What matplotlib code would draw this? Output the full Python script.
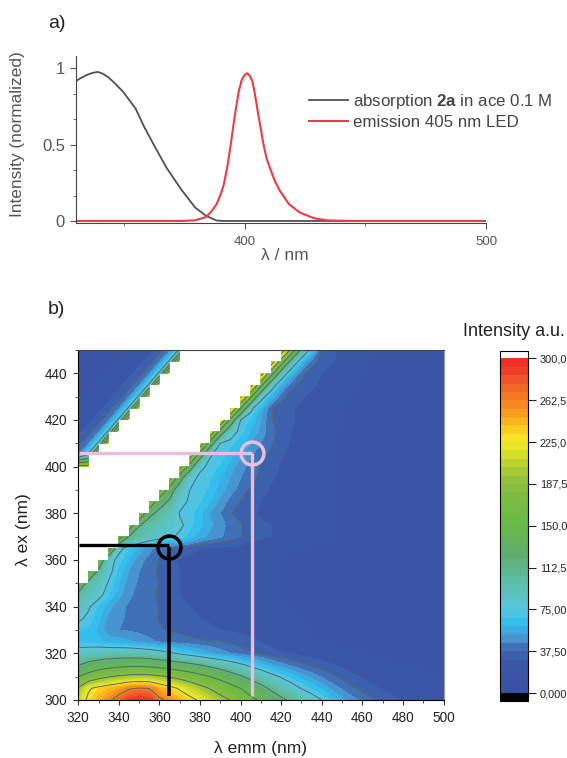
import numpy as np
import matplotlib
matplotlib.use('Agg')
import matplotlib.pyplot as plt
from matplotlib.colors import LinearSegmentedColormap, BoundaryNorm
from matplotlib.ticker import MultipleLocator
from matplotlib.cm import ScalarMappable

plt.rcParams['font.family'] = ['Liberation Sans', 'DejaVu Sans']
plt.rcParams['mathtext.fontset'] = 'custom'
plt.rcParams['mathtext.bf'] = 'Liberation Sans:bold'
plt.rcParams['mathtext.rm'] = 'Liberation Sans'

# panel a) spectra
abs_nm = [330, 332, 334.5, 337, 339, 341, 343.5, 346.5, 349.5, 354.7, 358.3, 362.4, 367.4, 373.5, 379.4, 384, 388.3, 391, 444]
abs_int = [0.916, 0.936, 0.956, 0.97, 0.976, 0.965, 0.94, 0.895, 0.846, 0.736, 0.615, 0.495, 0.352, 0.209, 0.088, 0.033, 0.003, 0, 0]
em_nm = [330, 373.4, 379.4, 383.9, 386, 388.3, 390, 391.3, 392.8, 394.2, 395.3, 396.4, 397.5, 398.7, 399.9, 401, 402.1, 403.2, 404.3,
         405.5, 407.7, 409, 410.8, 412.5, 414.5, 418.3, 422.8, 428.7, 434, 444, 500]
em_int = [0, 0, 0.004, 0.026, 0.06, 0.11, 0.175, 0.24, 0.36, 0.505, 0.63, 0.747, 0.85, 0.923, 0.955, 0.967, 0.95, 0.912, 0.82,
          0.703, 0.505, 0.41, 0.33, 0.26, 0.198, 0.11, 0.055, 0.018, 0.004, 0, 0]

# panel b) excitation-emission map, n = no data (scatter bands)
n = np.nan
lam_em = [320, 325, 330, 335, 340, 345, 350, 355, 360, 365, 370, 375, 380, 385, 390, 395, 400, 405, 410, 415, 420,
          425, 430, 435, 440, 450, 460, 470, 480, 490, 500]
lam_ex = list(range(300, 455, 5))
eem = [
    [210, 230, 245, 258, 275, 290, 298, 292, 268, 255, 242, 232, 222, 210, 198, 187, 172, 158, 145, 130, 118, 108, 95, 85, 75, 55, 42, 35, 29, 27, 25],
    [190, 222, 232, 240, 248, 260, 264, 262, 245, 234, 222, 210, 198, 186, 174, 162, 150, 135, 122, 108, 96, 85, 74, 66, 58, 44, 35, 29, 26, 24, 23],
    [150, 165, 178, 186, 192, 196, 198, 197, 192, 186, 178, 170, 160, 150, 140, 128, 116, 104, 93, 82, 73, 64, 56, 50, 44, 35, 29, 26, 24, 23, 22],
    [112, 122, 130, 136, 140, 143, 143, 141, 137, 132, 126, 120, 113, 105, 97, 88, 79, 70, 62, 54, 48, 43, 39, 36, 33, 28, 25, 23, 22, 22, 21],
    [85, 87, 90, 92, 93, 93, 92, 89, 84, 78, 72, 66, 60, 54, 49, 45, 42, 39, 36, 33, 31, 29, 27, 26, 25, 23, 22, 21, 21, 20, 20],
    [65, 64, 62, 58, 56, 54, 50, 47, 44, 42, 41, 40, 39, 38, 38, 36, 34, 32, 30, 27, 25, 24, 23, 22, 22, 21, 20, 20, 20, 19, 19],
    [68, 65, 58, 47, 45, 44, 43, 41, 38, 37, 36, 34, 32, 31, 30, 29, 28, 27, 26, 25, 24, 23, 23, 22, 22, 21, 20, 20, 20, 19, 19],
    [78, 72, 62, 50, 46, 44, 43, 41, 37, 34, 33, 31, 30, 29, 28, 27, 26, 25, 25, 24, 23, 23, 22, 22, 21, 21, 20, 20, 19, 19, 19],
    [90, 77, 66, 55, 47, 44, 42, 40, 37, 33, 31, 30, 29, 28, 27, 26, 25, 25, 24, 23, 23, 22, 22, 21, 21, 20, 20, 19, 19, 19, 19],
    [105, 90, 80, 68, 55, 46, 43, 40, 36, 32, 30, 29, 28, 27, 26, 25, 25, 24, 23, 23, 22, 22, 21, 21, 21, 20, 20, 19, 19, 19, 19],
    [140, 102, 88, 73, 60, 48, 44, 41, 37, 32, 30, 29, 28, 27, 26, 25, 24, 24, 23, 23, 22, 22, 21, 21, 21, 20, 20, 19, 19, 19, 19],
    [n, 150, 105, 80, 65, 52, 45, 41, 36, 32, 30, 29, 28, 27, 26, 25, 24, 24, 23, 23, 22, 22, 21, 21, 21, 20, 20, 19, 19, 19, 19],
    [n, n, 145, 82, 70, 58, 48, 42, 37, 32, 29, 28, 28, 27, 26, 25, 24, 24, 23, 23, 22, 22, 21, 21, 21, 20, 20, 19, 19, 19, 19],
    [n, n, n, 170, 80, 68, 58, 48, 40, 38, 36, 33, 30, 29, 28, 28, 27, 26, 25, 24, 23, 22, 22, 21, 21, 20, 20, 19, 19, 19, 19],
    [n, n, n, n, 170, 110, 98, 90, 84, 78, 72, 64, 56, 50, 46, 42, 38, 33, 31, 30, 28, 26, 25, 24, 23, 22, 21, 20, 20, 19, 19],
    [n, n, n, n, n, 180, 115, 100, 92, 85, 78, 70, 62, 54, 48, 42, 38, 34, 31, 30, 28, 26, 25, 24, 23, 22, 21, 20, 20, 19, 19],
    [n, n, n, n, n, n, 190, 120, 105, 90, 74, 70, 62, 52, 45, 38, 34, 31, 29, 28, 27, 26, 25, 24, 23, 22, 21, 20, 20, 19, 19],
    [n, n, n, n, n, n, n, 190, 125, 108, 80, 73, 68, 60, 50, 42, 37, 33, 30, 28, 27, 26, 25, 24, 23, 22, 21, 20, 20, 19, 19],
    [n, n, n, n, n, n, n, n, 195, 130, 92, 75, 70, 66, 56, 48, 42, 36, 32, 29, 27, 26, 25, 24, 23, 22, 21, 20, 20, 19, 19],
    [n, n, n, n, n, n, n, n, n, 200, 125, 80, 72, 68, 60, 52, 45, 40, 35, 31, 28, 26, 25, 24, 23, 22, 21, 20, 20, 19, 19],
    [200, 200, n, n, n, n, n, n, n, n, 205, 130, 78, 72, 66, 56, 48, 42, 37, 33, 29, 27, 25, 24, 23, 22, 21, 20, 20, 19, 19],
    [45, 80, 220, n, n, n, n, n, n, n, n, 210, 130, 76, 71, 63, 54, 46, 40, 35, 31, 28, 26, 24, 23, 22, 21, 20, 20, 19, 19],
    [35, 45, 80, 220, n, n, n, n, n, n, n, n, 215, 130, 75, 70, 62, 52, 45, 39, 33, 29, 26, 25, 23, 22, 21, 20, 20, 19, 19],
    [28, 33, 45, 80, 220, n, n, n, n, n, n, n, n, 220, 135, 85, 70, 60, 50, 40, 35, 30, 27, 25, 24, 22, 21, 20, 20, 19, 19],
    [25, 28, 33, 45, 80, 220, n, n, n, n, n, n, n, n, 225, 140, 75, 66, 52, 38, 35, 31, 28, 26, 24, 22, 21, 20, 20, 19, 19],
    [22, 25, 28, 33, 45, 80, 220, n, n, n, n, n, n, n, n, 230, 150, 80, 58, 38, 34, 31, 28, 26, 24, 22, 21, 20, 20, 19, 19],
    [22, 22, 25, 28, 33, 45, 80, 220, n, n, n, n, n, n, n, n, 235, 155, 85, 60, 40, 34, 31, 28, 26, 23, 21, 20, 20, 19, 19],
    [22, 22, 22, 25, 28, 33, 45, 80, 220, n, n, n, n, n, n, n, n, 240, 160, 90, 58, 40, 35, 32, 28, 24, 22, 20, 20, 19, 19],
    [22, 22, 22, 22, 25, 28, 33, 45, 80, 220, n, n, n, n, n, n, n, n, 245, 165, 95, 60, 40, 33, 30, 25, 22, 21, 20, 19, 19],
    [22, 22, 22, 22, 22, 25, 28, 33, 45, 80, 220, n, n, n, n, n, n, n, n, 250, 170, 100, 62, 42, 33, 28, 23, 21, 20, 19, 19],
    [22, 22, 22, 22, 22, 22, 25, 28, 33, 45, 80, 220, n, n, n, n, n, n, n, n, 255, 175, 105, 65, 36, 28, 24, 21, 20, 19, 19],
]

# colour scale
cbar_stops = [0, 25, 37.5, 47.7, 59.6, 73, 98, 122, 149, 176, 194, 214, 228, 241, 253, 268, 283, 295, 300]
cbar_cols = ['#3953a4', '#3a56a6', '#3f6cb2', '#4a9bd5', '#2dbdee', '#5bc5e0', '#5ebfa8', '#5fae6e', '#66b94a',
             '#7cbc42', '#95c13d', '#cfdb2a', '#f8ec25', '#fdc41f', '#f99d1f', '#f47b23', '#f1572a', '#ef3829', '#ee3124']
cbar_ticks = [0, 37.5, 75, 112.5, 150, 187.5, 225, 262.5, 300]
cbar_labels = ['0,000', '37,50', '75,00', '112,5', '150,0', '187,5', '225,0', '262,5', '300,0']

# read-out markers
pink_em, pink_ex = 405.4, 405.8
black_em, black_ex = 364.8, 365.6

W, H = 567, 758
fig = plt.figure(figsize=(W / 100, H / 100), dpi=100)

def px_axes(left, top, right, bottom):
    return fig.add_axes([left / W, 1 - bottom / H, (right - left) / W, (bottom - top) / H])

# --- a)
ax1 = px_axes(76, 56, 486, 222.5)
grey = '#555555'
ax1.plot(abs_nm, abs_int, color='#505050', lw=1.3, label=r'absorption $\mathbf{2a}$ in ace 0.1 M')
ax1.plot(em_nm, em_int, color='#ee3b45', lw=1.5, label='emission 405 nm LED')
ax1.set_xlim(330, 500)
ax1.set_ylim(-0.01, 1.08)
ax1.spines['top'].set_visible(False)
ax1.spines['right'].set_visible(False)
ax1.set_xticks([400, 500])
ax1.xaxis.set_minor_locator(MultipleLocator(50))
ax1.set_yticks([0, 0.5, 1])
ax1.set_yticklabels(['0', '0.5', '1'])
ax1.yaxis.set_minor_locator(MultipleLocator(1 / 6))
ax1.tick_params(axis='x', which='major', labelsize=9.5, length=4, colors=grey, pad=6)
ax1.tick_params(axis='x', which='minor', length=2.4, color=grey)
ax1.tick_params(axis='y', which='major', labelsize=12, length=4, colors=grey, pad=4)
ax1.tick_params(axis='y', which='minor', length=2.4, color=grey)
for s in ['left', 'bottom']:
    ax1.spines[s].set_color('#444444')
ax1.legend(loc='upper left', bbox_to_anchor=(309 / W, 1 - 92 / H), bbox_transform=fig.transFigure, frameon=False,
           borderpad=0, borderaxespad=0, fontsize=12.2, handlelength=2.3, handletextpad=0.3, labelspacing=0.25,
           labelcolor='#444444')
fig.text(285 / W, 1 - 255 / H, 'λ / nm', ha='center', va='center', fontsize=12.5, color=grey)
fig.text(18 / W, 1 - 134 / H, 'Intensity (normalized)', rotation=90, ha='center', va='center', fontsize=12.4, color=grey)
fig.text(48 / W, 1 - 23 / H, 'a)', ha='left', va='center', fontsize=14, color='#222222')
fig.text(48 / W, 1 - 310 / H, 'b)', ha='left', va='center', fontsize=14, color='#222222')

# --- b)
Z = np.array(eem, dtype=float)
levels = np.arange(0, 307.5, 7.5)
cmap = LinearSegmentedColormap.from_list('eem', [(v / 300, c) for v, c in zip(cbar_stops, cbar_cols)], N=len(levels) - 1)
cmap.set_over('white')
cmap.set_under('black')
norm = BoundaryNorm(levels, cmap.N)

ax2 = px_axes(78.3, 350, 443.5, 700)
ax2.contourf(lam_em, lam_ex, Z, levels=levels, cmap=cmap, norm=norm, corner_mask=False)
ax2.contour(lam_em, lam_ex, Z, levels=cbar_ticks[1:-1], colors='#56666c', linewidths=0.7, corner_mask=False)
ax2.plot([320.5, pink_em], [pink_ex, pink_ex], color='#e8bedd', lw=2.4, solid_capstyle='butt')
ax2.plot([pink_em, pink_em], [pink_ex, 301.7], color='#e8bedd', lw=2.4, solid_capstyle='butt')
ax2.plot([pink_em], [pink_ex], 'o', ms=16.5, mfc='none', mec='#e8bedd', mew=2.5)
ax2.plot([320.5, black_em], [366.5, 366.5], color='black', lw=2.4, solid_capstyle='butt')
ax2.plot([black_em, black_em], [black_ex, 301.7], color='black', lw=2.6, solid_capstyle='butt')
ax2.plot([black_em], [black_ex], 'o', ms=16.5, mfc='none', mec='black', mew=2.5)
ax2.set_xlim(320, 500)
ax2.set_ylim(300, 450)
ax2.set_xticks(range(320, 501, 20))
ax2.set_yticks(range(300, 441, 20))
ax2.xaxis.set_minor_locator(MultipleLocator(10))
ax2.yaxis.set_minor_locator(MultipleLocator(10))
ax2.tick_params(axis='both', which='major', labelsize=9.8, length=3.6, pad=4.5, colors='#222222', color='#333333')
ax2.tick_params(axis='both', which='minor', length=2, color='#333333')
ax2.spines['right'].set_color('#999999')
ax2.spines['top'].set_color('#444444')
fig.text(260 / W, 1 - 748 / H, 'λ emm (nm)', ha='center', va='center', fontsize=12.5, color='#222222')
fig.text(24 / W, 1 - 530 / H, 'λ ex (nm)', rotation=90, ha='center', va='center', fontsize=12.5, color='#222222')

# colour bar
cax = px_axes(500, 351, 528, 700.5)
cb = fig.colorbar(ScalarMappable(norm=norm, cmap=cmap), cax=cax, extend='both', extendrect=True,
                  extendfrac=7.5 / 335, spacing='proportional', ticks=cbar_ticks)
cb.set_ticklabels(cbar_labels)
cb.minorticks_off()
cb.ax.tick_params(labelsize=7.9, length=5.5, width=0.8, pad=3, colors='#222222')
cb.outline.set_linewidth(0.8)
fig.text(463 / W, 1 - 331 / H, 'Intensity a.u.', ha='left', va='center', fontsize=13, color='#222222')

fig.savefig('out.png', dpi=100)
plt.close(fig)
